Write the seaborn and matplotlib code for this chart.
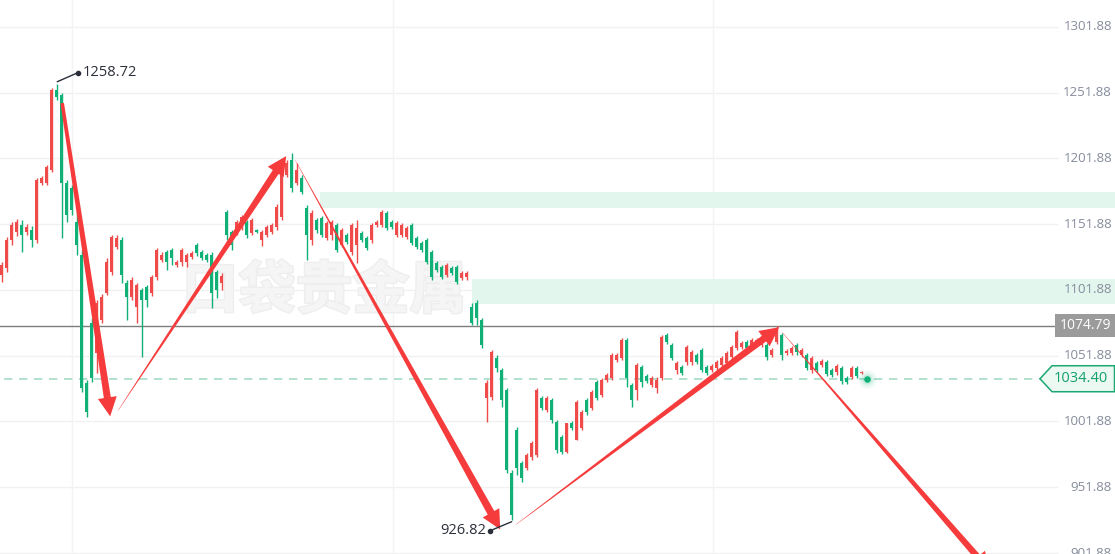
#K线图 - 价格走势 + 手绘箭头
import numpy as np
import pandas as pd
import matplotlib.pyplot as plt
import seaborn as sns
from matplotlib.patches import Polygon, Rectangle
from matplotlib.transforms import blended_transform_factory
import matplotlib.patheffects as pe

sns.set_theme(style="white")
plt.rcParams["font.family"] = ["Open Sans", "DejaVu Sans"]

#DADOS (OHLC)
opens = [
    1113.1, 1118.5, 1139.8, 1145.8, 1151.2, 1145.8, 1147.4, 1139.8, 1183.1, 1183.1,
    1193.0, 1253.9, 1250.1, 1183.1, 1179.3, 1153.5, 1128.3, 1030.9, 1076.6, 1053.8,
    1078.9, 1099.4, 1115.4, 1134.4, 1139.8, 1107.0, 1096.4, 1088.8, 1101.7, 1104.0,
    1099.4, 1111.6, 1124.5, 1130.6, 1132.2, 1120.7, 1123.0, 1123.0, 1126.8, 1136.0,
    1130.6, 1128.3, 1128.3, 1115.4, 1107.0, 1161.1, 1145.8, 1145.8, 1148.9, 1153.5,
    1145.1, 1147.4, 1139.8, 1143.6, 1145.8, 1149.7, 1157.3, 1189.2, 1200.6, 1183.1,
    1186.9, 1164.1, 1139.8, 1155.0, 1156.5, 1141.3, 1143.6, 1151.2, 1136.0, 1143.6,
    1130.6, 1136.0, 1145.1, 1141.3, 1139.8, 1151.2, 1151.2, 1160.3, 1153.5, 1143.6,
    1143.6, 1142.0, 1151.2, 1141.3, 1137.5, 1139.8, 1130.6, 1122.3, 1119.2, 1113.1,
    1118.5, 1119.2, 1110.8, 1111.6, 1088.8, 1091.8, 1078.9, 1019.5, 1020.3, 1050.0,
    1040.8, 1025.6, 962.5, 995.2, 970.1, 966.3, 974.6, 976.1, 1019.5, 1010.4,
    1018.0, 1001.3, 989.8, 978.4, 1000.5, 987.6, 996.7, 1018.0, 1011.9, 1031.7,
    1021.8, 1033.2, 1034.7, 1048.4, 1050.0, 1063.7, 1029.4, 1025.6, 1043.1, 1036.3,
    1029.4, 1027.1, 1034.7, 1067.5, 1059.9, 1040.8, 1043.1, 1046.9, 1046.9, 1052.2,
    1056.1, 1043.1, 1040.8, 1042.4, 1044.6, 1046.2, 1050.7, 1057.6, 1058.3, 1062.1,
    1059.9, 1061.4, 1059.9, 1059.9, 1052.2, 1062.1, 1067.5, 1053.8, 1053.8, 1059.9,
    1052.2, 1052.2, 1040.8, 1046.2, 1044.6, 1046.9, 1040.8, 1039.3, 1042.4, 1034.7,
    1035.5, 1042.4, 1038.5, 1035.0,
]
closes = [
    1120.7, 1139.8, 1151.2, 1153.5, 1143.6, 1149.7, 1139.8, 1185.4, 1186.9, 1195.3,
    1253.9, 1248.6, 1183.1, 1158.8, 1162.6, 1136.0, 1027.1, 1008.9, 1034.7, 1091.8,
    1096.4, 1123.0, 1142.0, 1141.3, 1113.1, 1096.4, 1109.3, 1105.5, 1094.1, 1094.1,
    1111.6, 1132.2, 1128.3, 1123.0, 1126.1, 1123.0, 1132.2, 1128.3, 1129.9, 1129.9,
    1126.1, 1124.5, 1099.4, 1101.7, 1112.4, 1143.6, 1136.0, 1153.5, 1157.3, 1143.6,
    1155.0, 1145.8, 1145.8, 1149.7, 1151.2, 1164.9, 1190.8, 1198.4, 1179.3, 1193.0,
    1176.3, 1143.6, 1160.3, 1147.4, 1143.6, 1152.7, 1153.5, 1132.2, 1147.4, 1138.2,
    1151.2, 1148.9, 1139.8, 1133.7, 1151.2, 1153.5, 1161.1, 1148.9, 1149.7, 1152.7,
    1151.2, 1148.9, 1137.5, 1134.4, 1132.2, 1123.0, 1111.6, 1116.9, 1111.6, 1120.7,
    1114.6, 1107.8, 1114.6, 1114.6, 1076.6, 1080.4, 1059.9, 1030.9, 1054.5, 1042.4,
    1018.0, 964.7, 930.5, 966.3, 958.6, 976.1, 985.3, 1025.6, 1011.9, 1019.5,
    1002.8, 980.0, 978.4, 1000.5, 996.7, 1016.5, 1008.9, 1008.9, 1024.1, 1019.5,
    1033.2, 1037.0, 1052.2, 1052.2, 1063.7, 1034.7, 1018.0, 1044.6, 1031.7, 1032.5,
    1034.7, 1033.2, 1065.9, 1062.1, 1050.0, 1046.2, 1038.5, 1058.3, 1054.5, 1046.9,
    1040.8, 1038.5, 1043.9, 1046.9, 1050.0, 1053.8, 1058.3, 1069.7, 1061.4, 1057.6,
    1063.7, 1063.7, 1065.2, 1050.7, 1056.1, 1071.3, 1052.2, 1055.3, 1057.6, 1054.5,
    1056.1, 1042.4, 1050.0, 1040.8, 1047.7, 1037.8, 1037.0, 1043.9, 1032.5, 1031.7,
    1042.4, 1036.3, 1039.3, 1034.4,
]
highs = [
    1123.0, 1142.0, 1153.5, 1155.7, 1155.0, 1151.9, 1150.4, 1186.9, 1188.5, 1196.8,
    1255.4, 1258.72, 1251.6, 1185.4, 1181.6, 1161.1, 1132.2, 1033.2, 1080.4, 1094.1,
    1098.7, 1126.1, 1143.6, 1143.6, 1142.0, 1109.3, 1111.6, 1107.0, 1103.2, 1105.5,
    1113.1, 1133.7, 1130.6, 1132.2, 1133.7, 1124.5, 1133.7, 1129.9, 1131.4, 1137.5,
    1132.2, 1129.9, 1130.6, 1116.9, 1114.6, 1162.6, 1147.4, 1155.0, 1158.8, 1155.0,
    1156.5, 1148.1, 1147.4, 1151.2, 1152.7, 1167.2, 1193.0, 1200.6, 1206.0, 1198.4,
    1189.2, 1166.4, 1162.6, 1156.5, 1158.0, 1154.2, 1155.0, 1152.7, 1148.9, 1145.1,
    1152.7, 1155.0, 1146.6, 1142.8, 1152.7, 1155.0, 1162.6, 1161.8, 1155.0, 1154.2,
    1152.7, 1150.4, 1152.7, 1142.8, 1139.0, 1141.3, 1132.2, 1123.8, 1120.7, 1122.3,
    1120.0, 1120.7, 1116.2, 1116.2, 1091.8, 1094.1, 1080.4, 1033.2, 1056.1, 1052.2,
    1042.4, 1027.1, 964.7, 997.5, 971.6, 977.7, 986.8, 1027.1, 1021.0, 1021.0,
    1019.5, 1002.8, 991.4, 1000.5, 1002.0, 1018.0, 1010.4, 1019.5, 1025.6, 1033.2,
    1034.7, 1038.5, 1053.8, 1053.8, 1065.2, 1065.2, 1030.9, 1046.2, 1044.6, 1037.8,
    1036.3, 1035.5, 1067.5, 1069.0, 1061.4, 1047.7, 1044.6, 1059.9, 1056.1, 1053.8,
    1057.6, 1044.6, 1045.4, 1048.4, 1051.5, 1055.3, 1059.9, 1071.3, 1062.9, 1063.7,
    1065.2, 1065.2, 1066.7, 1061.4, 1057.6, 1074.79, 1069.0, 1056.8, 1059.1, 1061.4,
    1057.6, 1053.8, 1051.5, 1047.7, 1049.2, 1048.4, 1042.4, 1045.4, 1043.9, 1036.3,
    1043.9, 1043.9, 1040.1, 1035.3,
]
lows = [
    1107.8, 1115.4, 1136.0, 1142.8, 1130.6, 1143.6, 1134.4, 1137.5, 1181.6, 1181.6,
    1191.5, 1246.3, 1141.3, 1153.5, 1158.8, 1128.3, 1024.1, 1005.1, 1031.7, 1038.5,
    1076.6, 1097.9, 1113.1, 1132.9, 1107.0, 1078.9, 1094.1, 1076.6, 1050.7, 1088.8,
    1097.1, 1109.3, 1123.0, 1116.9, 1120.7, 1119.2, 1120.0, 1119.2, 1125.3, 1127.6,
    1124.5, 1123.0, 1088.0, 1095.6, 1101.7, 1139.8, 1132.2, 1143.6, 1147.4, 1141.3,
    1143.6, 1145.1, 1135.2, 1142.0, 1144.3, 1147.4, 1155.0, 1187.7, 1176.3, 1181.6,
    1174.8, 1124.5, 1136.0, 1145.1, 1142.0, 1139.8, 1139.8, 1130.6, 1134.4, 1136.7,
    1128.3, 1122.3, 1138.2, 1132.2, 1137.5, 1149.7, 1149.7, 1147.4, 1148.1, 1142.0,
    1142.0, 1140.5, 1136.0, 1132.9, 1130.6, 1121.5, 1109.3, 1115.4, 1110.1, 1111.6,
    1113.1, 1106.3, 1109.3, 1109.3, 1075.1, 1075.1, 1057.6, 1001.3, 1018.0, 1039.3,
    1012.7, 962.5, 926.82, 960.9, 955.6, 964.7, 972.3, 974.6, 1010.4, 1008.9,
    1000.5, 977.7, 976.9, 977.7, 995.2, 987.6, 995.2, 1006.6, 1010.4, 1018.0,
    1020.3, 1031.7, 1033.2, 1046.9, 1048.4, 1027.9, 1012.7, 1018.0, 1027.9, 1030.9,
    1027.9, 1023.3, 1033.2, 1060.6, 1048.4, 1037.8, 1037.0, 1044.6, 1044.6, 1045.4,
    1039.3, 1037.0, 1039.3, 1040.8, 1043.1, 1044.6, 1049.2, 1056.1, 1056.8, 1056.1,
    1058.3, 1059.9, 1058.3, 1048.4, 1050.7, 1060.6, 1048.4, 1052.2, 1052.2, 1052.2,
    1050.7, 1040.8, 1038.5, 1039.3, 1043.1, 1036.3, 1035.5, 1037.0, 1030.2, 1030.2,
    1034.0, 1034.7, 1037.8, 1034.2,
]

#niveis do eixo de preço
price_levels = [901.88, 951.88, 1001.88, 1051.88, 1101.88, 1151.88, 1201.88, 1251.88, 1301.88]
time_grid = [14.06, 78.26, 142.26]

#marcas especiais
high_mark = 1258.72
high_idx = 11
low_mark = 926.82
low_idx = 102
ref_line = 1074.79
last_price = 1034.40

#zonas verdes
zone_start = [63.7, 94.1]
zone_bottom = [1164.2, 1091.0]
zone_top = [1176.5, 1110.0]

#setas (indice, preço)
arrow_from = [(12.1, 1244.0), (23.3, 1010.4), (58.7, 1200.6), (102.9, 923.6), (156.1, 1069.7)]
arrow_to = [(21.7, 1005.8), (56.9, 1203.7), (99.7, 919.8), (155.5, 1073.6), (197.7, 887.9)]

RED = "#F04B4B"
GREEN = "#10B077"
ARROW = "#F53B3B"
LABEL = "#868C9C"

df = pd.DataFrame({"open": opens, "high": highs, "low": lows, "close": closes})
df["idx"] = np.arange(len(df))
up = df["close"] >= df["open"]
cores = np.where(up, RED, GREEN)

#FIGURA
fig = plt.figure(figsize=(11.15, 5.54), dpi=100)
ax = fig.add_axes([0, 0, 1, 1])
ax.set_xlim(-0.34, 222.66)
ax.set_ylim(901.12, 1322.41)
ax.axis("off")

x_right = 211.3
trans = blended_transform_factory(ax.transAxes, ax.transData)

#grid
ax.hlines(price_levels, -1, x_right, colors="#f1f1f1", linewidth=1, zorder=0)
ax.vlines(time_grid, 880, 1340, colors="#f3f3f3", linewidth=1, zorder=0)

#zonas
for s, b, t in zip(zone_start, zone_bottom, zone_top):
    ax.add_patch(Rectangle((s, b), 300, t - b, facecolor="#e3f6ee", edgecolor="none", zorder=1))

#marca d'agua
ax.text(64.5, 1101, "口袋贵金属", fontsize=41, fontweight="bold", color="#f5f5f5",
        family=["Noto Sans CJK SC", "DejaVu Sans"], ha="center", va="center", zorder=1,
        path_effects=[pe.withStroke(linewidth=2, foreground="#eeeeee")])

#candles
ax.vlines(df["idx"], df["low"], df["high"], colors=cores, linewidth=1, zorder=3)
base = df[["open", "close"]].min(axis=1)
altura = (df["close"] - df["open"]).abs().clip(lower=0.9)
ax.bar(df["idx"], altura, bottom=base, width=0.62, color=cores, linewidth=0, zorder=4)

#linha de referencia e preço atual
ax.hlines(ref_line, -1, 211.06, colors="#7d7d7d", linewidth=1, zorder=2)
ax.hlines(last_price, 0.5, 207.7, colors="#a6dcc3", linewidth=1.2,
          linestyles=(0, (5, 4)), zorder=2)

#rotulos de preço
for p in price_levels:
    ax.text(0.9973, p, f"{p:.2f}", transform=trans, ha="right", va="center",
            fontsize=9.5, color=LABEL, zorder=5)

ax.text(0.9964, ref_line, f"{ref_line:.2f}", transform=trans, ha="right", va="center",
        fontsize=10, color="white", zorder=7,
        bbox=dict(boxstyle="square,pad=0.3", fc="#9b9b9b", ec="none"))

to_disp = ax.transData.transform
to_data = ax.transData.inverted().transform

yc = to_disp((0, last_price))[1]
caixa = np.array([[1040, yc], [1052, yc + 13], [1114.5, yc + 13], [1114.5, yc - 13], [1052, yc - 13]])
ax.add_patch(Polygon(to_data(caixa), closed=True, fc="#ecf9f3", ec="#1aa872", lw=1.1, zorder=7))
ax.text(0.969, last_price, f"{last_price:.2f}", transform=trans, ha="center", va="center",
        fontsize=10.5, color="#12a06b", zorder=8)


#setas afinadas
def seta(p0, p1, w0, w1, hw, hl):
    a = to_disp(p0)
    b = to_disp(p1)
    d = b - a
    u = d / np.hypot(*d)
    n = np.array([-u[1], u[0]])
    bb = b - u * hl
    pts = np.array([a + n * w0 / 2, bb + n * w1 / 2, bb + n * hw / 2, b,
                    bb - n * hw / 2, bb - n * w1 / 2, a - n * w0 / 2])
    ax.add_patch(Polygon(to_data(pts), closed=True, fc=ARROW, ec="none", zorder=6))


larg_ini = [3.5, 0.3, 0.3, 0.3, 0.3]
larg_fim = [7, 7, 7.5, 7, 6.5]
for p0, p1, w0, w1 in zip(arrow_from, arrow_to, larg_ini, larg_fim):
    seta(p0, p1, w0, w1, 19, 19)

#maximo e minimo
hx, hy = to_disp((high_idx, high_mark))
l1 = to_data(np.array([[hx + 0.5, hy + 2], [hx + 21, hy + 11]]))
ax.plot(l1[:, 0], l1[:, 1], color="#2b2f3a", lw=1, zorder=7)
ax.plot(l1[1, 0], l1[1, 1], "o", ms=3, color="#2b2f3a", zorder=7)
tp = to_data((hx + 25.5, hy + 11.5))
ax.text(tp[0], tp[1], f"{high_mark:.2f}", ha="left", va="center", fontsize=10.5, color="#2b2f3a", zorder=7)

lx, ly = to_disp((low_idx, low_mark))
l2 = to_data(np.array([[lx, ly - 1.5], [lx - 21.5, ly - 10.5]]))
ax.plot(l2[:, 0], l2[:, 1], color="#2b2f3a", lw=1, zorder=7)
ax.plot(l2[1, 0], l2[1, 1], "o", ms=3, color="#2b2f3a", zorder=7)
tp = to_data((lx - 25.5, ly - 10))
ax.text(tp[0], tp[1], f"{low_mark:.2f}", ha="right", va="center", fontsize=10.5, color="#2b2f3a", zorder=7)

#ponto do ultimo preço com brilho
ultimo = pd.DataFrame({"idx": [len(df) - 1], "preco": [last_price]})
for s, a in [(180, 0.05), (100, 0.08), (50, 0.12)]:
    ax.scatter(ultimo["idx"], ultimo["preco"], s=s, color=GREEN, alpha=a, linewidths=0, zorder=5)
sns.scatterplot(data=ultimo, x="idx", y="preco", s=22, color=GREEN, linewidth=0, ax=ax, zorder=6)
ax.set_xlim(-0.34, 222.66)
ax.set_ylim(901.12, 1322.41)
ax.axis("off")

fig.savefig("out.png", dpi=100)
